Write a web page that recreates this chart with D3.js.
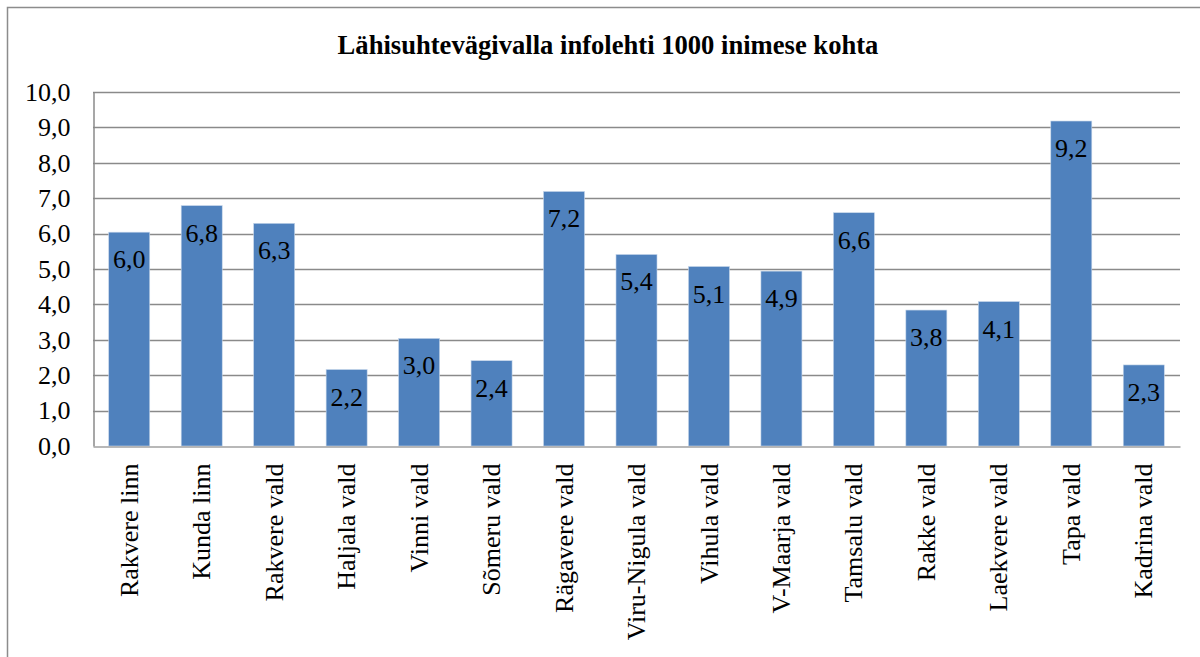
<!DOCTYPE html>
<html><head><meta charset="utf-8">
<script src="https://cdn.jsdelivr.net/npm/d3@7"></script>
<style>body{margin:0;background:#fff;} svg{display:block;}</style>
</head><body>
<svg id="c" width="1200" height="657"></svg>
<script>
const categories = ["Rakvere linn","Kunda linn","Rakvere vald","Haljala vald","Vinni vald","Sõmeru vald","Rägavere vald","Viru-Nigula vald","Vihula vald","V-Maarja vald","Tamsalu vald","Rakke vald","Laekvere vald","Tapa vald","Kadrina vald"];
const values = [6.04,6.79,6.29,2.16,3.04,2.41,7.19,5.41,5.07,4.94,6.59,3.84,4.08,9.18,2.29];
const yTicks = [0,1,2,3,4,5,6,7,8,9,10];
const title = "Lähisuhtevägivalla infolehti 1000 inimese kohta";

const svg = d3.select("#c");
const font = "'Liberation Serif','Times New Roman',serif";
const L = 93, R = 1180, T = 92, B = 446;
const fmt = v => d3.format(".1f")(v).replace(".", ",");

svg.append("rect").attr("x",7.5).attr("y",7.5).attr("width",1220).attr("height",680)
  .attr("fill","#fff").attr("stroke","#8c8c8c").attr("stroke-width",1.5);

svg.append("text").attr("x",608).attr("y",54).attr("text-anchor","middle")
  .attr("font-family",font).attr("font-weight","bold").attr("font-size",26.6).text(title);

const x = d3.scaleBand().domain(categories).range([L,R]).padding(0);
const y = d3.scaleLinear().domain([0,10]).range([B,T]);
const barW = x.bandwidth()*0.566;

// gridlines
svg.append("g").selectAll("line").data(yTicks.filter(d=>d>0)).join("line")
  .attr("x1",L).attr("x2",R).attr("y1",d=>Math.round(y(d))+0.5).attr("y2",d=>Math.round(y(d))+0.5)
  .attr("stroke","#8a8a8a").attr("stroke-width",1.5);

// y axis
const ya = svg.append("g").attr("transform",`translate(${L+0.5},0)`)
  .call(d3.axisLeft(y).tickValues(yTicks).tickFormat(fmt).tickSize(0).tickPadding(23));
ya.attr("font-family",font);
ya.select(".domain").attr("stroke","#8a8a8a").attr("stroke-width",1.5);
ya.selectAll("text").attr("font-family",font).attr("font-size",26).attr("fill","#000");

// bars
svg.append("g").selectAll("rect").data(values).join("rect")
  .attr("x",(d,i)=>x(categories[i])+(x.bandwidth()-barW)/2)
  .attr("y",d=>y(d)).attr("width",barW).attr("height",d=>y(0)-y(d))
  .attr("fill","#4f81bd").attr("stroke","#c6d6ea").attr("stroke-width",0.6);

// data labels
svg.append("g").attr("font-family",font).selectAll("text").data(values).join("text")
  .attr("x",(d,i)=>x(categories[i])+x.bandwidth()/2)
  .attr("y",d=>y(d)+36).attr("text-anchor","middle")
  .attr("font-family",font).attr("font-size",26).attr("fill","#000").text(fmt);

// x axis
const xa = svg.append("g").attr("transform",`translate(0,${B+0.5})`)
  .call(d3.axisBottom(x).tickSize(0).tickPadding(0));
xa.attr("font-family",font);
xa.select(".domain").attr("stroke","#a0a0a0").attr("stroke-width",1.5);
xa.selectAll("text").attr("font-family",font).attr("font-size",26).attr("fill","#000")
  .attr("text-anchor","end").attr("dy","0.33em")
  .attr("transform","translate(0,17) rotate(-90)").attr("x",0).attr("y",0);
</script>
</body></html>
